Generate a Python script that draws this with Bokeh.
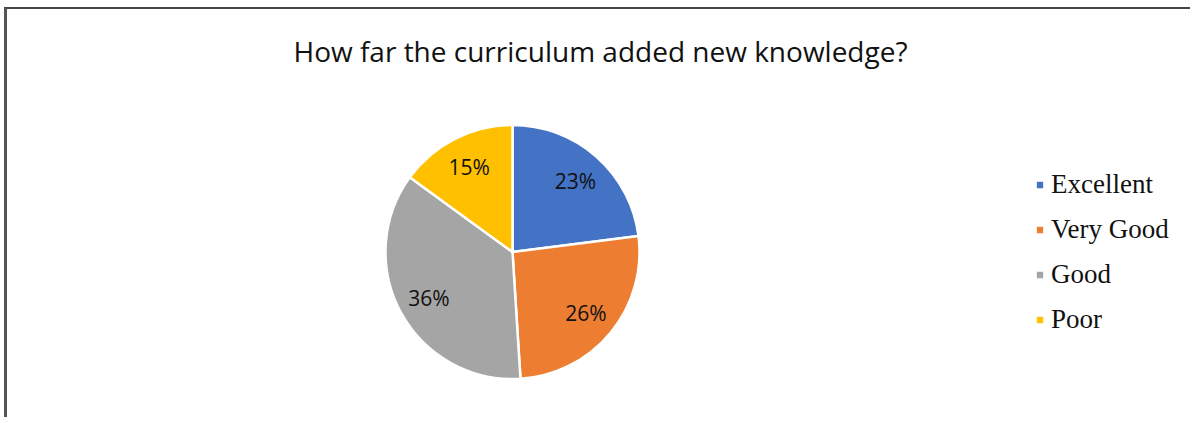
import math
from bokeh.plotting import figure
from bokeh.models import ColumnDataSource, Range1d, Legend, LegendItem
from bokeh.core.properties import value
from bokeh.embed import file_html
from bokeh.resources import INLINE

title_text = "How far the curriculum added new knowledge?"
categories = ["Excellent", "Very Good", "Good", "Poor"]
percents = [23, 26, 36, 15]
colors = ["#4472C4", "#ED7D31", "#A5A5A5", "#FFC000"]

W, H = 1186, 410
TOP = 80  # space reserved above the frame for the title
FH = H - TOP

p = figure(width=W, height=H, output_backend="svg", toolbar_location=None,
           x_range=Range1d(0, W), y_range=Range1d(0, FH),
           min_border_left=0, min_border_right=0, min_border_bottom=0,
           min_border_top=TOP)
p.axis.visible = False
p.grid.visible = False
p.outline_line_color = None
p.background_fill_color = "white"
p.border_fill_color = "white"
p.styles = {"border-top": "2px solid #444", "border-left": "3px solid #555",
            "margin-left": "4px", "margin-top": "7px"}

p.title.text = title_text
p.title.align = "center"
p.title.text_font = "Open Sans"
p.title.text_font_size = "28px"
p.title.text_font_style = "normal"
p.title.text_color = "#111111"
p.title.standoff = 41

cx, r = 505, 127
cy = FH - (242 - TOP)

total = sum(percents)
starts, ends, lx, ly, labels = [], [], [], [], []
cum = 0.0
for v in percents:
    a0 = math.pi / 2 - cum / total * 2 * math.pi
    a1 = math.pi / 2 - (cum + v) / total * 2 * math.pi
    mid = (a0 + a1) / 2
    starts.append(a0)
    ends.append(a1)
    lx.append(cx + 0.75 * r * math.cos(mid))
    ly.append(cy + 0.75 * r * math.sin(mid))
    labels.append(f"{v}%")
    cum += v

src = ColumnDataSource(dict(cat=categories, start=starts, end=ends, color=colors,
                            lx=lx, ly=ly, label=labels))

wedges = p.wedge(x=cx, y=cy, radius=r, start_angle="start", end_angle="end",
                 direction="clock", fill_color="color", line_color="white",
                 line_width=2.5, source=src)

p.text(x="lx", y="ly", text="label", source=src, text_align="center",
       text_baseline="middle", text_font=value("Open Sans"),
       text_font_size="21px", text_color="#111111")

items = [LegendItem(label=c, renderers=[wedges], index=i) for i, c in enumerate(categories)]
legend = Legend(items=items, location=(1027, 84), orientation="vertical",
                label_text_font="Liberation Serif", label_text_font_size="27px",
                label_text_color="#111111", glyph_width=11, glyph_height=11,
                spacing=14, label_standoff=6, border_line_color=None,
                background_fill_alpha=0, padding=0, margin=0)
p.add_layout(legend)

open("out.html", "w").write(file_html(p, INLINE))
